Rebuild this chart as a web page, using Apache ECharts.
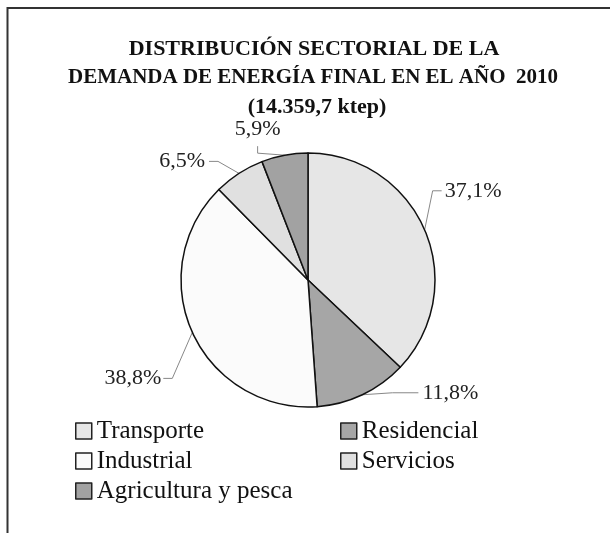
<!DOCTYPE html>
<html>
<head>
<meta charset="utf-8">
<script src="https://cdn.jsdelivr.net/npm/echarts@6/dist/echarts.min.js"></script>
<style>
  html, body { margin: 0; padding: 0; background: #fff; }
  #chart { width: 610px; height: 533px; }
</style>
</head>
<body>
<div id="chart"></div>
<script>
// Sector shares of final energy demand, 2010 (percent), clockwise from the top
const sectors = ['Transporte', 'Residencial', 'Industrial', 'Servicios', 'Agricultura y pesca'];
const shares = [37.1, 11.8, 38.8, 6.5, 5.9];
const fills = ['#e6e6e6', '#a6a6a6', '#fbfbfb', '#e0e0e0', '#a2a2a2'];

const titleLines = ['DISTRIBUCIÓN SECTORIAL DE LA', 'DEMANDA DE ENERGÍA FINAL EN EL AÑO  2010'];
const subtitle = '(14.359,7 ktep)';

const legendLeftColumn = ['Transporte', 'Industrial', 'Agricultura y pesca'];
const legendRightColumn = ['Residencial', 'Servicios'];

const serif = '"Liberation Serif", "Times New Roman", serif';

const chart = echarts.init(document.getElementById('chart'), null, { renderer: 'canvas' });

// Label placement relative to the slice's anchor point on the rim
function placeLabel(params) {
  const pts = params.labelLinePoints;
  if (!pts) return {};
  const p0 = pts[0];
  const i = params.dataIndex;
  let ax, ay;
  switch (i) {
    case 0: // right, upper
      ax = p0[0] + 20; ay = p0[1] - 39;
      return { x: ax, y: ay, align: 'left', verticalAlign: 'middle',
        labelLinePoints: [p0, [ax - 12, ay], [ax - 3, ay]] };
    case 1: // right, lower
      ax = p0[0] + 60; ay = p0[1] - 2;
      return { x: ax, y: ay, align: 'left', verticalAlign: 'middle',
        labelLinePoints: [p0, [ax - 30, ay], [ax - 4, ay]] };
    case 2: // left, lower
      ax = p0[0] - 31; ay = p0[1] + 46;
      return { x: ax, y: ay, align: 'right', verticalAlign: 'middle',
        labelLinePoints: [p0, [ax + 11, ay], [ax + 2, ay]] };
    case 3: // left, upper
      ax = p0[0] - 34; ay = p0[1] - 12;
      return { x: ax, y: ay, align: 'right', verticalAlign: 'middle',
        labelLinePoints: [p0, [ax + 13, ay], [ax + 4, ay]] };
    default: // above the top
      ax = p0[0] - 27; ay = p0[1] - 15;
      return { x: ax, y: ay, align: 'center', verticalAlign: 'bottom',
        labelLinePoints: [p0, [ax, p0[1] - 2], [ax, p0[1] - 9]] };
  }
}

const legendCommon = {
  orient: 'vertical',
  icon: 'rect',
  itemWidth: 16,
  itemHeight: 16,
  itemGap: 4,
  selectedMode: false,
  itemStyle: { borderColor: '#222', borderWidth: 1.5 },
  textStyle: { fontFamily: serif, fontSize: 25, lineHeight: 26, color: '#111' }
};

const titleStyle = { fontFamily: serif, fontWeight: 'bold', fontSize: 21, color: '#111' };

chart.setOption({
  backgroundColor: '#ffffff',
  animation: false,
  title: [
    { text: titleLines[0], left: 309, textAlign: 'center', top: 33,
      textStyle: Object.assign({}, titleStyle, { fontSize: 22 }) },
    { text: titleLines[1], left: 308, textAlign: 'center', top: 62, textStyle: titleStyle },
    { text: subtitle, left: 312, textAlign: 'center', top: 91,
      textStyle: Object.assign({}, titleStyle, { fontSize: 22 }) }
  ],
  legend: [
    Object.assign({ left: 70, top: 413, data: legendLeftColumn }, legendCommon),
    Object.assign({ left: 335, top: 413, data: legendRightColumn }, legendCommon)
  ],
  graphic: [{
    type: 'rect',
    silent: true,
    shape: { x: 7.5, y: 8, width: 800, height: 800 },
    style: { fill: 'none', stroke: '#333', lineWidth: 2 }
  }],
  series: [{
    type: 'pie',
    center: [308, 280],
    radius: [0, 127],
    startAngle: 90,
    clockwise: true,
    avoidLabelOverlap: false,
    data: sectors.map((name, i) => ({
      name: name,
      value: shares[i],
      itemStyle: { color: fills[i] }
    })),
    itemStyle: { borderColor: '#111', borderWidth: 1.5 },
    label: {
      show: true,
      position: 'outside',
      formatter: p => p.value.toFixed(1).replace('.', ',') + '%',
      fontFamily: serif,
      fontSize: 22,
      color: '#222'
    },
    labelLine: {
      show: true,
      length: 10,
      length2: 8,
      lineStyle: { color: '#888', width: 1 }
    },
    labelLayout: placeLabel,
    emphasis: { disabled: true }
  }]
});
</script>
</body>
</html>
